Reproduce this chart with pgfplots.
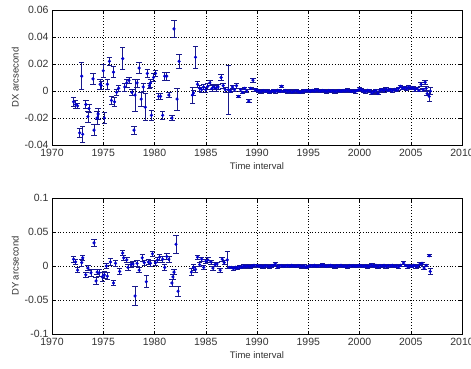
\documentclass[border=0pt]{standalone}
\usepackage{pgfplots}
\pgfplotsset{compat=1.18}
\usepackage{pgfplotstable}
\usepackage{fontspec}
\setmainfont{Liberation Sans}
\definecolor{mblue}{RGB}{0,0,210}
\definecolor{ebar}{RGB}{25,25,140}

\pgfplotstableread{
x y e
1972.1 -0.008 0.003
1972.3 -0.010 0.003
1972.5 -0.011 0.002
1972.7 -0.031 0.003
1972.9 0.011 0.010
1973.0 -0.032 0.006
1973.3 -0.010 0.003
1973.5 -0.019 0.004
1973.6 -0.013 0.003
1974.0 0.009 0.004
1974.1 -0.029 0.004
1974.4 -0.020 0.005
1974.5 -0.017 0.004
1974.7 0.005 0.004
1974.8 0.004 0.003
1975.0 0.015 0.005
1975.1 -0.020 0.004
1975.4 0.005 0.004
1975.6 0.022 0.003
1975.8 -0.007 0.003
1976.0 0.014 0.004
1976.1 -0.008 0.003
1976.3 -0.001 0.002
1976.5 0.002 0.002
1976.9 0.024 0.008
1977.1 0.003 0.003
1977.3 0.006 0.003
1977.5 0.008 0.002
1977.8 -0.001 0.002
1978.0 -0.029 0.003
1978.1 -0.003 0.012
1978.3 0.006 0.003
1978.5 0.017 0.004
1978.7 -0.006 0.005
1978.9 0.003 0.003
1979.1 -0.012 0.010
1979.3 0.013 0.003
1979.5 0.004 0.002
1979.6 0.006 0.003
1979.7 -0.018 0.004
1979.9 0.010 0.003
1980.1 0.013 0.002
1980.4 -0.004 0.002
1980.6 -0.004 0.002
1980.8 -0.018 0.003
1981.0 0.011 0.003
1981.2 0.011 0.003
1981.4 -0.003 0.002
1981.7 -0.020 0.002
1981.9 0.046 0.006
1982.2 -0.006 0.008
1982.4 0.022 0.005
1983.7 -0.003 0.006
1983.8 -0.0015 0.002
1984.0 0.025 0.008
1984.2 0.005 0.002
1984.4 0.002 0.002
1984.6 0.001 0.002
1984.8 0.003 0.002
1985.0 0.001 0.002
1985.2 0.0035 0.002
1985.4 0.006 0.002
1985.6 0.002 0.002
1985.8 0.003 0.002
1986.0 0.002 0.002
1986.2 0.003 0.002
1986.5 0.010 0.002
1986.7 0.004 0.002
1986.9 0.001 0.002
1987.2 0.001 0.018
1987.4 0.000 0.001
1987.6 0.003 0.001
1987.8 0.001 0.001
1988.0 0.004 0.002
1988.2 -0.004 0.001
1988.4 0.001 0.001
1988.6 -0.001 0.001
1988.8 0.002 0.001
1989.0 0.000 0.001
1989.2 -0.0075 0.001
1989.4 0.002 0.001
1989.6 0.008 0.0015
1989.8 0.001 0.001
1990.0 0.0005 0.001
1990.2 0.0000 0.001
1990.4 -0.0005 0.001
1990.6 0.0003 0.001
1990.8 -0.0002 0.001
1991.0 0.0000 0.001
1991.2 -0.0008 0.001
1991.4 -0.0003 0.001
1991.6 0.0002 0.001
1991.8 -0.0005 0.001
1992.0 0.0005 0.001
1992.2 0.0000 0.001
1992.3 -0.0003 0.001
1992.4 0.0035 0.001
1992.6 -0.0002 0.001
1992.8 0.0003 0.001
1993.0 -0.0005 0.001
1993.2 0.0000 0.001
1993.4 -0.0008 0.001
1993.6 -0.0003 0.001
1993.8 0.0002 0.001
1994.0 -0.0006 0.001
1994.2 -0.0010 0.001
1994.4 -0.0004 0.001
1994.6 0.0000 0.001
1994.8 0.0004 0.001
1995.0 0.0002 0.001
1995.2 -0.0003 0.001
1995.4 0.0005 0.001
1995.6 0.0000 0.001
1995.8 0.0008 0.001
1996.0 0.0002 0.001
1996.2 -0.0002 0.001
1996.4 0.0004 0.001
1996.6 0.0000 0.001
1996.8 -0.0004 0.001
1997.0 0.0003 0.001
1997.2 -0.0001 0.001
1997.4 0.0002 0.001
1997.6 -0.0005 0.001
1997.8 0.0000 0.001
1998.0 0.0003 0.001
1998.2 -0.0002 0.001
1998.4 0.0004 0.001
1998.6 0.0000 0.001
1998.8 0.0006 0.001
1999.0 0.0002 0.001
1999.2 -0.0003 0.001
1999.4 0.0001 0.001
1999.6 -0.0004 0.001
1999.8 0.0005 0.001
2000.0 0.0015 0.001
2000.2 0.0008 0.001
2000.4 0.0000 0.001
2000.6 -0.0005 0.001
2000.8 0.0005 0.001
2001.0 0.0002 0.001
2001.2 -0.0015 0.001
2001.4 -0.0005 0.001
2001.6 0.0003 0.001
2001.8 -0.0018 0.001
2002.0 0.0005 0.001
2002.2 0.0010 0.001
2002.4 0.0002 0.001
2002.6 0.0015 0.001
2002.8 0.0005 0.001
2003.0 0.0010 0.001
2003.2 0.0000 0.001
2003.4 0.0012 0.001
2003.6 0.0006 0.001
2003.8 0.0018 0.001
2004.0 0.0035 0.001
2004.2 0.0020 0.001
2004.4 0.0025 0.001
2004.6 0.0015 0.001
2004.8 0.0030 0.001
2005.0 0.0020 0.001
2005.2 0.0025 0.001
2005.4 0.0010 0.001
2005.6 0.0020 0.001
2005.8 0.0005 0.001
2006.0 0.0050 0.0015
2006.2 0.0010 0.0010
2006.4 0.0065 0.0015
2006.5 0.0020 0.0015
2006.6 -0.0020 0.0015
2006.8 -0.0040 0.0040
2006.9 0.0000 0.0025
}\dxdata

\pgfplotstableread{
x y e
1972.1 0.010 0.004
1972.3 0.006 0.004
1972.5 -0.006 0.004
1972.9 0.005 0.005
1973.0 0.012 0.004
1973.3 -0.013 0.004
1973.5 -0.003 0.004
1973.8 -0.010 0.005
1974.1 0.034 0.005
1974.3 -0.022 0.005
1974.4 -0.009 0.004
1974.6 -0.010 0.005
1974.9 -0.016 0.006
1975.1 -0.013 0.005
1975.3 0.000 0.004
1975.4 -0.015 0.005
1975.7 0.006 0.005
1976.0 -0.025 0.004
1976.2 0.004 0.004
1976.6 -0.008 0.004
1976.9 0.019 0.004
1977.0 0.012 0.004
1977.3 0.009 0.004
1977.4 -0.002 0.004
1977.7 0.002 0.004
1977.9 0.003 0.004
1978.1 -0.044 0.014
1978.3 0.004 0.004
1978.5 -0.006 0.004
1978.8 0.012 0.005
1979.0 0.005 0.004
1979.2 -0.023 0.009
1979.4 0.006 0.004
1979.6 0.004 0.004
1979.8 0.018 0.004
1980.1 0.005 0.004
1980.3 0.009 0.004
1980.5 0.013 0.004
1980.8 0.010 0.004
1981.0 -0.002 0.004
1981.2 0.014 0.004
1981.4 0.010 0.004
1981.7 -0.025 0.005
1981.8 -0.016 0.004
1981.9 -0.009 0.004
1982.1 0.032 0.013
1982.3 -0.037 0.007
1983.6 -0.009 0.005
1983.8 -0.002 0.004
1984.0 -0.005 0.004
1984.2 0.013 0.003
1984.4 0.002 0.003
1984.6 0.010 0.003
1984.8 -0.002 0.003
1985.0 0.007 0.003
1985.2 0.009 0.003
1985.5 0.006 0.003
1985.7 -0.003 0.003
1985.9 0.002 0.003
1986.1 0.003 0.003
1986.4 -0.006 0.003
1986.6 0.010 0.003
1986.8 0.005 0.003
1987.1 0.009 0.012
1987.3 -0.002 0.002
1987.5 -0.002 0.002
1987.7 -0.004 0.002
1987.9 -0.002 0.002
1988.1 -0.003 0.002
1988.3 -0.001 0.002
1988.5 -0.002 0.002
1988.7 0.000 0.002
1988.9 -0.001 0.002
1989.1 0.000 0.002
1989.3 -0.001 0.002
1989.5 0.000 0.002
1989.7 0.001 0.002
1990.0 0.0005 0.002
1990.2 -0.0005 0.002
1990.4 0.0000 0.002
1990.6 -0.0010 0.002
1990.8 0.0005 0.002
1991.0 0.0000 0.002
1991.2 -0.0010 0.002
1991.4 0.0005 0.002
1991.6 0.0010 0.002
1991.8 0.0030 0.002
1992.0 -0.0015 0.002
1992.2 0.0000 0.002
1992.4 0.0005 0.002
1992.6 -0.0005 0.002
1992.8 0.0000 0.002
1993.0 0.0005 0.002
1993.2 -0.0005 0.002
1993.4 0.0010 0.002
1993.6 0.0000 0.002
1993.8 -0.0005 0.002
1994.0 0.0005 0.002
1994.2 0.0000 0.002
1994.4 -0.0010 0.002
1994.6 0.0000 0.002
1994.8 -0.0020 0.002
1995.0 -0.0005 0.002
1995.2 0.0005 0.002
1995.4 0.0000 0.002
1995.6 0.0010 0.002
1995.8 -0.0005 0.002
1996.0 0.0000 0.002
1996.2 0.0005 0.002
1996.4 0.0015 0.002
1996.6 0.0000 0.002
1996.8 -0.0005 0.002
1997.0 0.0005 0.002
1997.2 0.0010 0.002
1997.4 0.0000 0.002
1997.6 -0.0010 0.002
1997.8 0.0005 0.002
1998.0 0.0000 0.002
1998.2 0.0010 0.002
1998.4 -0.0005 0.002
1998.6 0.0000 0.002
1998.8 -0.0010 0.002
1999.0 0.0005 0.002
1999.2 0.0000 0.002
1999.4 0.0005 0.002
1999.6 -0.0005 0.002
1999.8 0.0000 0.002
2000.0 0.0010 0.002
2000.2 0.0000 0.002
2000.4 -0.0005 0.002
2000.6 0.0005 0.002
2000.8 -0.0010 0.002
2001.0 0.0000 0.002
2001.2 0.0015 0.002
2001.4 -0.0005 0.002
2001.6 0.0010 0.002
2001.8 -0.0015 0.002
2002.0 0.0005 0.002
2002.2 0.0000 0.002
2002.4 0.0010 0.002
2002.6 -0.0010 0.002
2002.8 0.0005 0.002
2003.0 0.0000 0.002
2003.2 0.0010 0.002
2003.4 -0.0005 0.002
2003.6 0.0005 0.002
2003.8 -0.0015 0.002
2004.0 0.0010 0.002
2004.3 0.0045 0.002
2004.5 0.0010 0.002
2004.7 -0.0010 0.002
2004.9 0.0005 0.002
2005.1 -0.0005 0.002
2005.3 0.0010 0.002
2005.5 -0.0010 0.002
2005.7 0.0000 0.002
2005.9 0.0030 0.002
2006.1 0.0040 0.002
2006.3 -0.0030 0.002
2006.5 0.0010 0.002
2006.8 0.0150 0.0015
2006.9 -0.0080 0.0040
}\dydata

\pgfplotsset{
  mstyle/.style={
    scale only axis, width=410pt,
    xmin=1970, xmax=2010,
    xtick={1970,1975,1980,1985,1990,1995,2000,2005,2010},
    xticklabels={1970,1975,1980,1985,1990,1995,2000,2005,2010},
    scaled ticks=false,
    grid=major,
    major grid style={black, line width=0.45pt, dash pattern=on 0.6pt off 2.2pt},
    tick align=inside, tick pos=both, major tick length=3.5pt,
    axis line style={black, line width=0.5pt},
    every tick/.style={black, line width=0.5pt},
    tick label style={font=\fontsize{10.5}{12}\selectfont, text=black!80},
    label style={font=\fontsize{9.5}{11}\selectfont, text=black!80},
    xlabel={Time interval},
    xticklabel style={yshift=-1pt},
    xlabel style={yshift=1pt},
    ylabel style={yshift=-1pt},
  },
  ebstyle/.style={
    only marks, mark=*, mark size=1.4pt, color=mblue,
    mark options={fill=mblue, draw=mblue},
    error bars/.cd, y dir=both, y explicit,
    error bar style={ebar, line width=0.7pt},
    error mark options={rotate=90, mark size=2.7pt, ebar, line width=0.7pt},
  },
}

\begin{document}
\begin{tikzpicture}[x=1pt,y=1pt]
\path[use as bounding box] (0,0) rectangle (471,368);
\begin{axis}[mstyle,
  at={(52pt,223pt)}, anchor=south west, height=135pt,
  ymin=-0.04, ymax=0.06,
  ytick={-0.04,-0.02,0,0.02,0.04,0.06},
  yticklabels={-0.04,-0.02,0,0.02,0.04,0.06},
  ylabel={DX arcsecond}]
\addplot[ebstyle] table[x=x,y=y,y error=e] {\dxdata};
\end{axis}
\begin{axis}[mstyle,
  at={(52pt,34pt)}, anchor=south west, height=136pt,
  ymin=-0.1, ymax=0.1,
  ytick={-0.1,-0.05,0,0.05,0.1},
  yticklabels={-0.1,-0.05,0,0.05,0.1},
  ylabel={DY arcsecond}]
\addplot[ebstyle] table[x=x,y=y,y error=e] {\dydata};
\end{axis}
\end{tikzpicture}
\end{document}
